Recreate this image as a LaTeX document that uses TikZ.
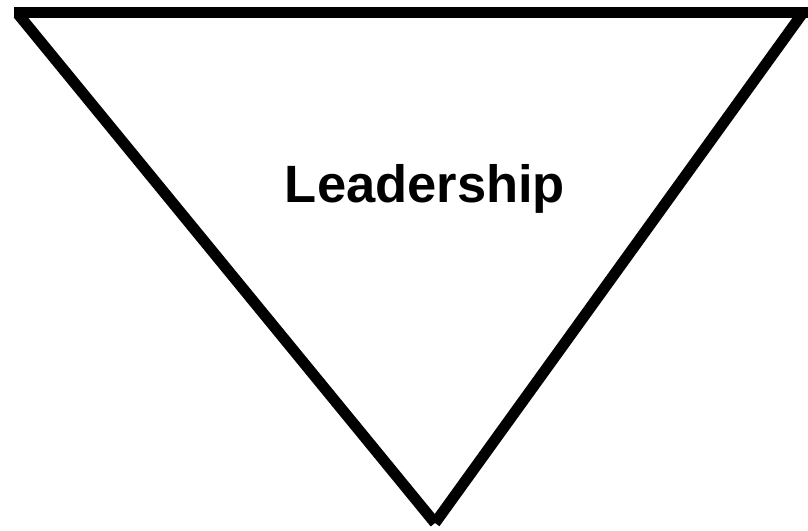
\documentclass[tikz,border=0pt]{standalone}
\usepackage{fontspec}
\setmainfont{Liberation Sans}
\begin{document}
\begin{tikzpicture}[x=1pt,y=-1pt,
  edge/.style={line width=11pt,line cap=butt}]
\useasboundingbox (0,0) rectangle (808,530);
\coordinate (tl) at (14,12);
\coordinate (tr) at (812,12);
\coordinate (ltop) at (18,14);
\coordinate (rtop) at (802,14);
\coordinate (apex) at (435,523);
\draw[edge] (tl) -- (tr);
\draw[edge] (ltop) -- (apex);
\draw[edge] (rtop) -- (apex);
\node[font=\bfseries\fontsize{52.5}{60}\selectfont, inner sep=0pt] (lbl) at (425,189) {Leadership};
\end{tikzpicture}
\end{document}
